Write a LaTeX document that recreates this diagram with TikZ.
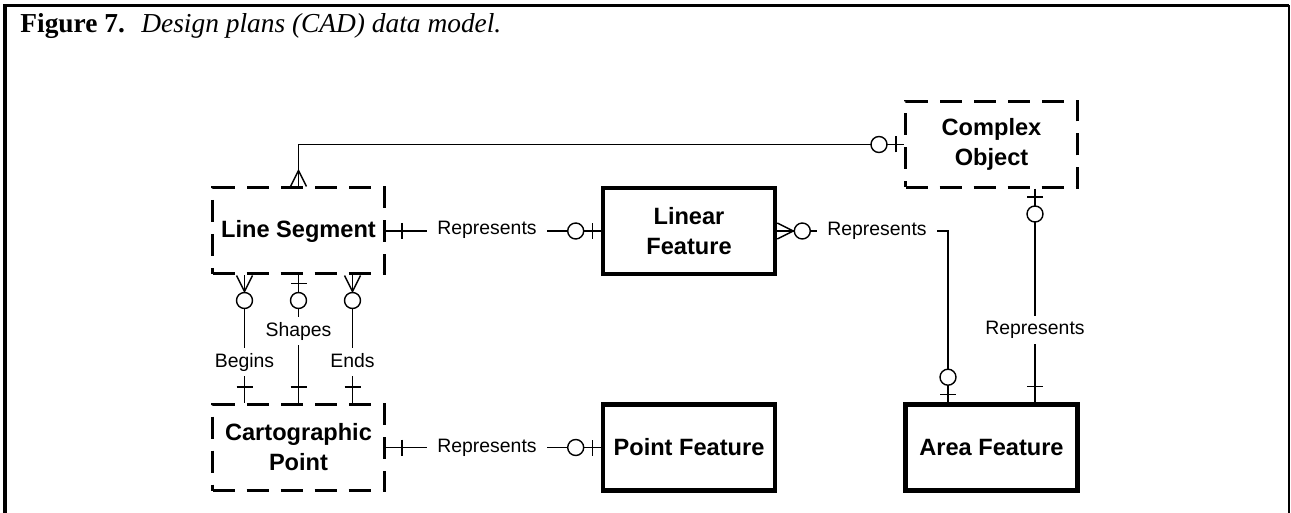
\documentclass[tikz,border=0pt]{standalone}
\usepackage{fontspec}
\setmainfont{Liberation Sans}
\newfontfamily\captionserif{Liberation Serif}

\tikzset{
  entity/.style={draw,line width=2.3pt,minimum width=86pt,minimum height=43pt,inner sep=0pt,align=center,font=\fontsize{11.8}{15}\selectfont\bfseries},
  weakentity/.style={entity,line width=1.5pt,dash pattern=on 11pt off 6pt},
  rel/.style={fill=white,inner xsep=5pt,inner ysep=2.5pt,text height=7pt,text depth=2pt,font=\fontsize{9.7}{11}\selectfont},
  conn/.style={line width=0.7pt},
  % cardinality marks, drawn at the box end, pointing away from the box
  onebar/.pic={\draw[conn] (16,-8) -- (16,8);},
  zeroone/.pic={\draw[conn] (8,-8) -- (8,8); \draw[conn,fill=white] (25,0) circle[radius=8];},
  crowfoot/.pic={\draw[conn] (0,-8) -- (16,0) -- (0,8);},
  zeromany/.pic={\draw[conn] (0,-8) -- (16,0) -- (0,8); \draw[conn,fill=white] (25,0) circle[radius=8];},
}

\begin{document}
\begin{tikzpicture}[x=0.5pt,y=-0.5pt]
\useasboundingbox (0,0) rectangle (1291,513);

%Frame
\draw [line width=1.8pt] (5,513) -- (5,5.5) -- (1289,5.5) ;
\draw [line width=1pt] (1289,5.5) -- (1289,513) ;

% Text Node
\node [anchor=base west,inner sep=0pt,font=\captionserif\fontsize{13.7}{16}\selectfont] (title) at (20,33) {\textbf{Figure 7.}\hspace{0.6em}\textit{Design plans (CAD) data model.}};

%Shape: Entities
\node [weakentity] (lseg) at (298.5,231) {Line Segment};
\node [entity] (linfeat) at (689,231) {Linear\\Feature};
\node [weakentity] (cplx) at (991.5,144.5) {Complex\\Object};
\node [weakentity] (cpoint) at (298.5,447.5) {Cartographic\\Point};
\node [entity] (pfeat) at (689,447.5) {Point Feature};
\node [entity] (afeat) at (991.5,447.5) {Area Feature};

%Straight Lines
\draw [conn] (lseg.north) |- (cplx.west) ;
\draw [conn] (lseg.east) -- (linfeat.west) ;
\draw [conn] (linfeat.east) -| ([xshift=-21.75pt]afeat.north) ;
\draw [conn] ([xshift=21.75pt]cplx.south) -- ([xshift=21.75pt]afeat.north) ;
\draw [conn] ([xshift=-27pt]lseg.south) -- ([xshift=-27pt]cpoint.north) ;
\draw [conn] (lseg.south) -- (cpoint.north) ;
\draw [conn] ([xshift=27pt]lseg.south) -- ([xshift=27pt]cpoint.north) ;
\draw [conn] (cpoint.east) -- (pfeat.west) ;

%Cardinality
\pic [rotate=90] at (lseg.north) {crowfoot};
\pic [rotate=180] at (cplx.west) {zeroone};
\pic at (lseg.east) {onebar};
\pic [rotate=180] at (linfeat.west) {zeroone};
\pic at (linfeat.east) {zeromany};
\pic [rotate=90] at ([xshift=-21.75pt]afeat.north) {zeroone};
\pic [rotate=-90] at ([xshift=21.75pt]cplx.south) {zeroone};
\pic [rotate=90] at ([xshift=21.75pt]afeat.north) {onebar};
\pic [rotate=-90] at ([xshift=-27pt]lseg.south) {zeromany};
\pic [rotate=-90] at (lseg.south) {zeroone};
\pic [rotate=-90] at ([xshift=27pt]lseg.south) {zeromany};
\pic [rotate=90] at ([xshift=-27pt]cpoint.north) {onebar};
\pic [rotate=90] at (cpoint.north) {onebar};
\pic [rotate=90] at ([xshift=27pt]cpoint.north) {onebar};
\pic at (cpoint.east) {onebar};
\pic [rotate=180] at (pfeat.west) {zeroone};

% Text Node
\node [rel] (rep1) at (487,230) {Represents};
\node [rel] (rep2) at (487,447) {Represents};
\node [rel] (rep3) at (877,231) {Represents};
\node [rel] (rep4) at (1035,330) {Represents};
\node [rel] (begins) at (244.5,362) {Begins};
\node [rel] (shapes) at (298.5,331) {Shapes};
\node [rel] (ends) at (352.5,362) {Ends};

\end{tikzpicture}
\end{document}
